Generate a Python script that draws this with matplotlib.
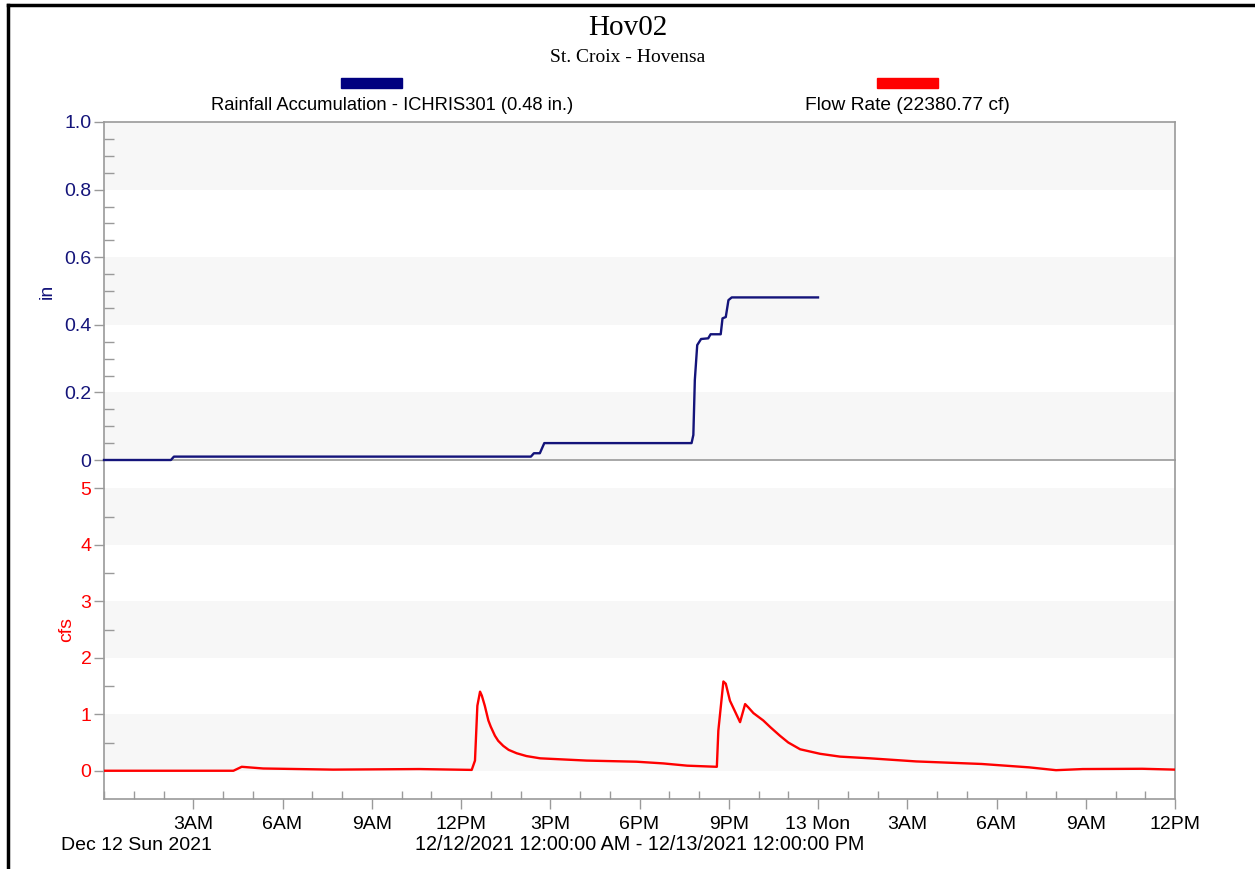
import matplotlib
matplotlib.use("Agg")
import matplotlib.pyplot as plt
from matplotlib.lines import Line2D
from matplotlib.patches import Rectangle
from matplotlib.ticker import FixedLocator, MultipleLocator

plt.rcParams['font.family'] = ['Liberation Sans', 'DejaVu Sans']

# hours since 12/12/2021 12:00 AM
rain_hours = [0, 2.25, 2.35, 14.35, 14.45, 14.65, 14.8, 19.75, 19.81, 19.86, 19.94,
              20.07, 20.31, 20.39, 20.73, 20.79, 20.9, 20.99, 21.1, 24.0]
rain_in = [0, 0, 0.01, 0.01, 0.02, 0.02, 0.05, 0.05, 0.074, 0.237, 0.34,
           0.358, 0.36, 0.372, 0.372, 0.419, 0.423, 0.473, 0.481, 0.481]

flow_hours = [0, 4.35, 4.63, 5.35, 7.7, 10.6, 12.36, 12.47, 12.55, 12.64, 12.7,
              12.8, 12.92, 13.0, 13.14, 13.25, 13.42, 13.6, 13.87, 14.2, 14.66,
              16.22, 17.9, 18.8, 19.6, 20.6, 20.65, 20.82, 20.9, 21.04, 21.38,
              21.55, 21.66, 21.83, 22.16, 22.4, 22.72, 23.0, 23.4, 24.07, 24.74,
              25.75, 27.3, 29.5, 31.1, 32.0, 32.9, 34.9, 36.0]
flow_cfs = [0, 0, 0.07, 0.04, 0.02, 0.03, 0.015, 0.18, 1.15, 1.40, 1.33,
            1.15, 0.89, 0.78, 0.62, 0.53, 0.44, 0.37, 0.31, 0.26, 0.22,
            0.18, 0.16, 0.13, 0.09, 0.07, 0.71, 1.58, 1.54, 1.24, 0.86,
            1.18, 1.12, 1.02, 0.89, 0.77, 0.62, 0.50, 0.38, 0.30, 0.25,
            0.22, 0.165, 0.12, 0.06, 0.01, 0.03, 0.035, 0.02]

x_ticks = [3, 6, 9, 12, 15, 18, 21, 24, 27, 30, 33, 36]
x_labels = ['3AM', '6AM', '9AM', '12PM', '3PM', '6PM', '9PM', '13 Mon',
            '3AM', '6AM', '9AM', '12PM']

navy = '#14147a'
red = '#ff0000'
band = '#f7f7f7'
frame = '#9a9a9a'

W, H = 1255, 869
fig = plt.figure(figsize=(W / 100, H / 100), dpi=100)

def px_box(l, t, r, b):
    return [l / W, 1 - b / H, (r - l) / W, (b - t) / H]

ax2 = fig.add_axes(px_box(104, 460, 1175, 799))
ax1 = fig.add_axes(px_box(104, 122, 1175, 460), sharex=ax2)
ax1.patch.set_visible(False)
ax2.spines['top'].set_visible(False)

# background bands
for lo in [0.0, 0.4, 0.8]:
    ax1.axhspan(lo, lo + 0.2, color=band, zorder=0, lw=0)
for lo in [0, 2, 4]:
    ax2.axhspan(lo, lo + 1, color=band, zorder=0, lw=0)

ax1.plot(rain_hours, rain_in, color=navy, lw=1.7, zorder=3, clip_on=False)
ax2.plot(flow_hours, flow_cfs, color=red, lw=1.7, zorder=3)

ax1.set_xlim(0, 36)
ax1.set_ylim(0, 1.0)
ax2.set_ylim(-0.5, 5.5)

for ax in (ax1, ax2):
    for s in ax.spines.values():
        s.set_color(frame)
        s.set_linewidth(1.2)

ax1.set_yticks([0, 0.2, 0.4, 0.6, 0.8, 1.0])
ax1.set_yticklabels(['0', '0.2', '0.4', '0.6', '0.8', '1.0'])
ax1.yaxis.set_minor_locator(MultipleLocator(0.05))
ax1.tick_params(axis='y', which='major', direction='out', length=7, width=1,
                color=frame, labelcolor=navy, labelsize=14, pad=2)
ax1.tick_params(axis='y', which='minor', direction='in', length=7, width=1, color=frame)
ax1.tick_params(axis='x', which='both', bottom=False, labelbottom=False)

ax2.set_yticks([0, 1, 2, 3, 4, 5])
ax2.yaxis.set_minor_locator(FixedLocator([0.5, 1.5, 2.5, 3.5, 4.5]))
ax2.tick_params(axis='y', which='major', direction='out', length=7, width=1,
                color=frame, labelcolor=red, labelsize=14, pad=2)
ax2.tick_params(axis='y', which='minor', direction='in', length=7, width=1, color=frame)

ax2.xaxis.set_major_locator(FixedLocator(x_ticks))
ax2.set_xticklabels(x_labels)
ax2.xaxis.set_minor_locator(MultipleLocator(1))
ax2.tick_params(axis='x', which='major', direction='out', length=7, width=1,
                color=frame, labelcolor='black', labelsize=14, pad=5)
ax2.tick_params(axis='x', which='minor', direction='in', length=6, width=1, color=frame)

# axis titles
fig.text(47 / W, 1 - 291 / H, 'in', color=navy, fontsize=14, rotation=90,
         ha='center', va='center')
fig.text(67 / W, 1 - 629 / H, 'cfs', color=red, fontsize=14, rotation=90,
         ha='center', va='center')

# titles
fig.text(628 / W, 1 - 28 / H, 'Hov02', family='Liberation Serif', fontsize=21,
         ha='center', va='center')
fig.text(628 / W, 1 - 57 / H, 'St. Croix - Hovensa', family='Liberation Serif',
         fontsize=14, ha='center', va='center')

# legend
fig.add_artist(Rectangle((341 / W, 1 - 88 / H), 61 / W, 10 / H, color='#000080',
                         transform=fig.transFigure))
fig.add_artist(Rectangle((877 / W, 1 - 88 / H), 61 / W, 10 / H, color=red,
                         transform=fig.transFigure))
fig.text(392 / W, 1 - 106 / H, 'Rainfall Accumulation - ICHRIS301 (0.48 in.)',
         fontsize=13.2, ha='center', va='center')
fig.text(907 / W, 1 - 106 / H, 'Flow Rate (22380.77 cf)',
         fontsize=13.8, ha='center', va='center')

# date labels
fig.text(136 / W, 1 - 845 / H, 'Dec 12 Sun 2021', fontsize=14, ha='center', va='center')
fig.text(640 / W, 1 - 845 / H, '12/12/2021 12:00:00 AM - 12/13/2021 12:00:00 PM',
         fontsize=14.2, ha='center', va='center')

# outer border (top and left)
fig.add_artist(Line2D([8 / W, 1], [1 - 5 / H, 1 - 5 / H], color='black', lw=2.5,
                      transform=fig.transFigure))
fig.add_artist(Line2D([8 / W, 8 / W], [0, 1 - 5 / H], color='black', lw=2.5,
                      transform=fig.transFigure))

fig.savefig('out.png', dpi=100)
